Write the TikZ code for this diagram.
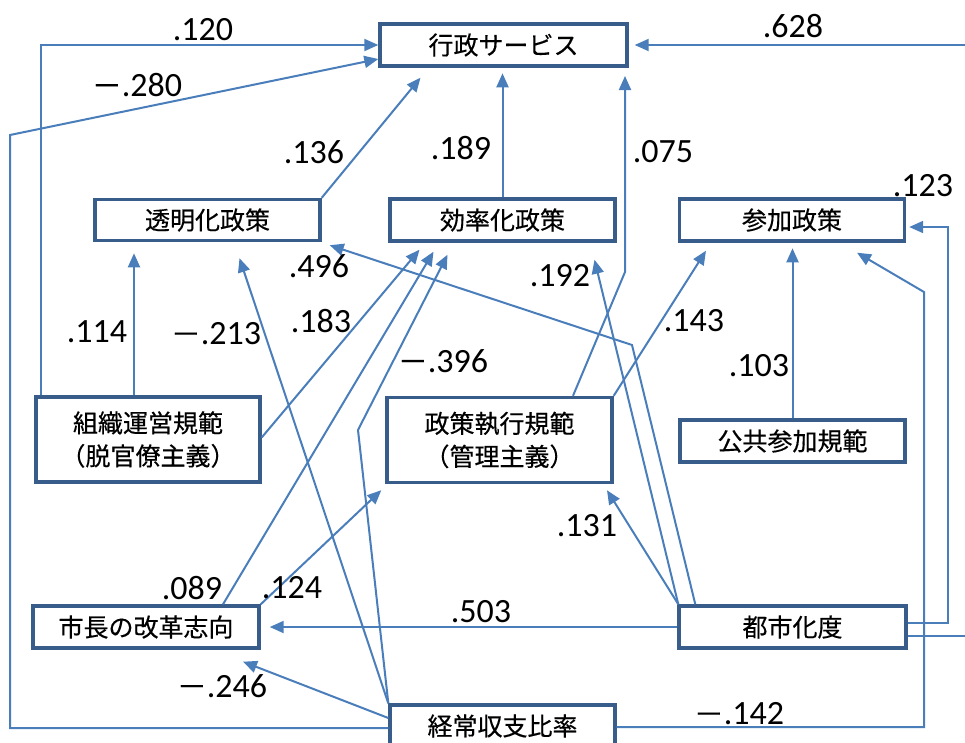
\documentclass[tikz,border=0pt]{standalone}
\usepackage{fontspec}
\setmainfont{Carlito}
\newfontfamily\jp[FakeBold=0.4]{Noto Sans CJK JP}
\usetikzlibrary{arrows.meta,calc}
\definecolor{ln}{HTML}{4A7EBB}
\definecolor{bx}{HTML}{385D8A}
\newcommand{\mns}{{\jp\fontsize{30}{30}\selectfont －}}
\begin{document}
\begin{tikzpicture}[x=1pt,y=-1pt,
 box/.style={draw=bx,line width=3.4pt,fill=white,minimum width=225pt,minimum height=42pt,inner sep=0pt,align=center,font=\jp\fontsize{25}{33}\selectfont},
 arr/.style={draw=ln,line width=2pt,-{Triangle[length=14pt,width=12pt]}},
 lbl/.style={font=\fontsize{34}{34}\selectfont,inner sep=0pt}]
\useasboundingbox (0,0) rectangle (965,742);
% nodes
\node[box,minimum width=247pt] (sv) at (503.5,45) {行政サービス};
\node[box,minimum height=41pt] (tm) at (207.5,220) {透明化政策};
\node[box] (ef) at (502.5,220) {効率化政策};
\node[box] (sk) at (792,220) {参加政策};
\node[box,minimum width=224pt,minimum height=85pt] (so) at (148,439.5) {組織運営規範\\（脱官僚主義）};
\node[box,minimum height=85pt] (se) at (499.5,440) {政策執行規範\\（管理主義）};
\node[box] (ko) at (792.5,441) {公共参加規範};
\node[box,minimum width=226pt] (sh) at (146,627) {市長の改革志向};
\node[box,minimum width=227pt] (ts) at (792.5,627) {都市化度};
\node[box] (kj) at (502.5,726) {経常収支比率};
% edges
\draw[arr] ($(so.north west)+(7,0)$) |- (sv.west);
\draw[arr] ($(kj.west)+(0,2)$) -- (10,728) -- (10,135) -- ($(sv.west)+(0,14)$);
\draw[arr] (tm.north east) -- ($(sv.south)+(-83,10)$);
\draw[arr] (ef.north) -- ++(0,-124);
\draw[arr] ($(se.north)+(73.5,0)$) -- (625,272) -- (625,76);
\draw[arr] ($(ts.east)+(0,9)$) -- (980,636) -- (980,45) -- ($(sv.east)+(6,0)$);
\draw[arr] ($(ts.east)+(0,-4)$) -- (948,623) -- (948,227) -- ($(sk.east)+(3,7)$);
\draw[arr] ($(kj.east)+(0,1)$) -- (924,727) -- (924,292) -- ($(sk.south)+(65,10)$);
\draw[arr] (ko.north) -- ++(0,-170);
\draw[arr] (se.north east) -- ($(sk.south)+(-86,8)$);
\draw[arr] ($(so.north)+(-14,0)$) -- ++(0,-142);
\draw[arr] (kj.north west) -- ($(tm.south)+(32,16)$);
\draw[arr] ($(ts.north west)+(18,0)$) -- (632,345) -- ($(tm.south east)+(8,3)$);
\draw[arr] ($(ts.north west)+(1,0)$) -- ($(ef.south)+(92,17)$);
\draw[arr] ($(ts.north west)+(1,0)$) -- ($(se.south)+(107.5,6)$);
\draw[arr] (ts.west) -- ($(sh.east)+(9,0)$);
\draw[arr] ($(kj.west)+(0,-8)$) -- ($(sh.south)+(97,12)$);
\draw[arr] ($(sh.north)+(77,0)$) -- ($(ef.south)+(-69,9)$);
\draw[arr] ($(so.east)+(0,-2)$) -- ($(ef.south)+(-83,7)$);
\draw[arr] (kj.north west) -- (358,430) -- ($(ef.south)+(-55,12)$);
\draw[arr] (sh.north east) -- ($(se.south west)+(-4,6)$);
% labels
\node[lbl] (l120) at (203,30) {.120};
\node[lbl] (l280) at (137,85) {\mns.280};
\node[lbl] (l136) at (314,152) {.136};
\node[lbl] (l189) at (461,148) {.189};
\node[lbl] (l075) at (663,152) {.075};
\node[lbl] (l628) at (793,26) {.628};
\node[lbl] (l123) at (923,186) {.123};
\node[lbl] (l496) at (319,266) {.496};
\node[lbl] (l183) at (321,321) {.183};
\node[lbl] (l114) at (97,332) {.114};
\node[lbl] (l213) at (216,334) {\mns.213};
\node[lbl] (l396) at (443,361) {\mns.396};
\node[lbl] (l192) at (560,276) {.192};
\node[lbl] (l143) at (694,321) {.143};
\node[lbl] (l103) at (759,366) {.103};
\node[lbl] (l131) at (587,526) {.131};
\node[lbl] (l503) at (481,612) {.503};
\node[lbl] (l089) at (192,588) {.089};
\node[lbl] (l124) at (292,588) {.124};
\node[lbl] (l246) at (222,686) {\mns.246};
\node[lbl] (l142) at (739,714) {\mns.142};
\end{tikzpicture}
\end{document}
